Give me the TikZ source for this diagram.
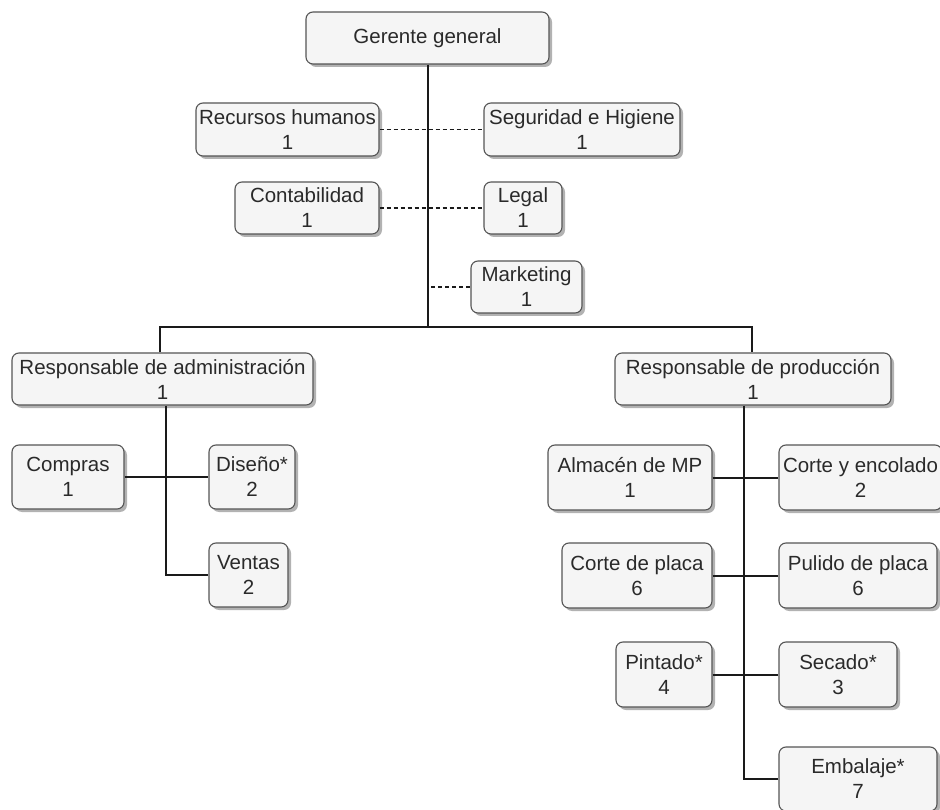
\documentclass[tikz,border=0pt]{standalone}
\usepackage{fontspec}
\setmainfont{Liberation Sans}
\usetikzlibrary{shadows}
\definecolor{boxfill}{HTML}{F5F5F5}
\definecolor{boxline}{HTML}{555555}
\definecolor{txt}{HTML}{2A2A2A}
\definecolor{lnk}{HTML}{1A1A1A}
\begin{document}
\begin{tikzpicture}[x=1pt,y=-1pt,
  box/.style={draw=boxline, fill=boxfill, line width=1.1pt, rounded corners=7pt,
    align=center, inner sep=0pt, text=txt,
    font=\fontsize{20.5}{25}\selectfont,
    drop shadow={shadow xshift=3pt, shadow yshift=-3pt, fill=black, opacity=0.3}},
  link/.style={draw=lnk, line width=2pt},
  dlink/.style={draw=lnk, line width=1.3pt, dash pattern=on 4pt off 3pt}]
\useasboundingbox (0,0) rectangle (940,810);
\fill[white] (0,0) rectangle (940,810);

% coordinates
\coordinate (j) at (427.5,327);
\coordinate (mkd) at (431,287);
\coordinate (va) at (166,575);
\coordinate (vp) at (744,779);

% nodes
\node[box, minimum width=243pt, minimum height=52pt] (gg) at (427.5,38) {Gerente general};
\node[box, minimum width=183pt, minimum height=53pt] (rh) at (287.5,129.5) {Recursos humanos\\1};
\node[box, minimum width=196pt, minimum height=53pt] (sh) at (582,129.5) {Seguridad e Higiene\\1};
\node[box, minimum width=144pt, minimum height=52pt] (ct) at (307,208) {Contabilidad\\1};
\node[box, minimum width=78pt, minimum height=52pt] (lg) at (523,208) {Legal\\1};
\node[box, minimum width=111pt, minimum height=52pt] (mk) at (526.5,287) {Marketing\\1};
\node[box, minimum width=301pt, minimum height=52pt] (ra) at (162.5,379) {Responsable de administración\\1};
\node[box, minimum width=276pt, minimum height=52pt] (rp) at (753,379) {Responsable de producción\\1};
\node[box, minimum width=112pt, minimum height=64pt] (cp) at (68,477) {Compras\\1};
\node[box, minimum width=86pt, minimum height=64pt] (ds) at (252,477) {Diseño*\\2};
\node[box, minimum width=79pt, minimum height=64pt] (vt) at (248.5,575) {Ventas\\2};
\node[box, minimum width=164pt, minimum height=65pt] (am) at (630,477.5) {Almacén de MP\\1};
\node[box, minimum width=163pt, minimum height=65pt] (ce) at (860.5,477.5) {Corte y encolado\\2};
\node[box, minimum width=150pt, minimum height=65pt] (cpl) at (637,575.5) {Corte de placa\\6};
\node[box, minimum width=158pt, minimum height=65pt] (pp) at (858,575.5) {Pulido de placa\\6};
\node[box, minimum width=96pt, minimum height=65pt] (pi) at (664,674.5) {Pintado*\\4};
\node[box, minimum width=118pt, minimum height=65pt] (sc) at (838,674.5) {Secado*\\3};
\node[box, minimum width=158pt, minimum height=64pt] (em) at (858,779) {Embalaje*\\7};

% top spine
\draw[link] (gg.south) -- (j);
\draw[link] ([xshift=-2.5pt]ra.north) |- (j) -| ([xshift=-1pt]rp.north);

% staff (dashed)
\draw[dlink] (rh.east) -- (sh.west);
\draw[dlink] (ct.east) -- (lg.west);
\draw[dlink] (mkd) -- (mk.west);

% administration
\draw[link] (ra.south -| va) -- (va) -- (vt.west);
\draw[link] (cp.east) -- (ds.west);

% production
\draw[link] (rp.south -| vp) -- (vp) -- (em.west);
\draw[link] (am.east) -- (ce.west);
\draw[link] (cpl.east) -- (pp.west);
\draw[link] (pi.east) -- (sc.west);
\end{tikzpicture}
\end{document}
